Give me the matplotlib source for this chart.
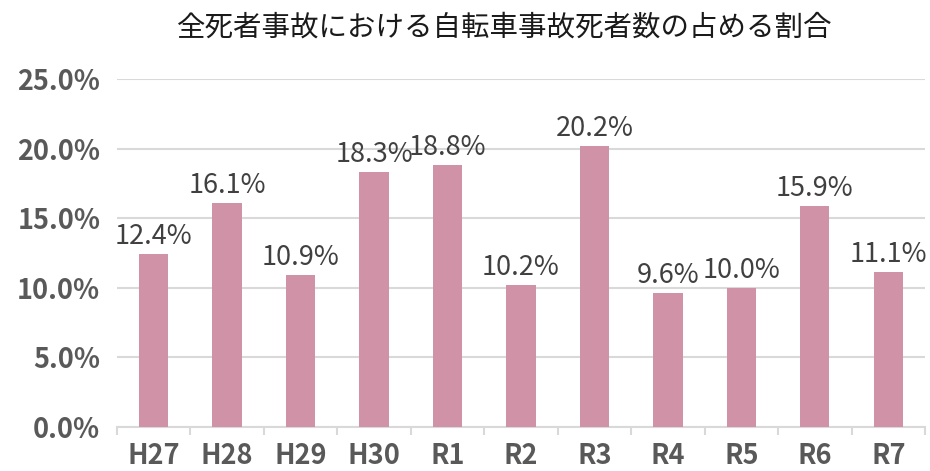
import matplotlib.pyplot as plt
import numpy as np

plt.rcParams['font.family'] = ['Noto Sans CJK JP', 'DejaVu Sans']

# データ
years = ['H27', 'H28', 'H29', 'H30', 'R1', 'R2', 'R3', 'R4', 'R5', 'R6', 'R7']
ratio = [12.4, 16.1, 10.9, 18.3, 18.8, 10.2, 20.2, 9.6, 10.0, 15.9, 11.1]
y_ticks = [0, 5, 10, 15, 20, 25]

bar_color = '#d092a7'
grid_color = '#d9d9d9'

fig = plt.figure(figsize=(9.3, 4.71), dpi=100)
ax = fig.add_axes([0.1258, 0.0934, 0.8688, 0.7389])

x = np.arange(len(years))
ax.bar(x, ratio, width=0.4, color=bar_color, zorder=3)

# 棒の上のラベル
for xi, v in zip(x, ratio):
    ax.annotate(f'{v:.1f}%', xy=(xi, v), xytext=(0, 3), textcoords='offset points',
                ha='center', va='bottom', fontsize=19.5, color='#404040')

ax.set_xlim(-0.5, len(years) - 0.5)
ax.set_ylim(0, 25)
ax.set_yticks(y_ticks)
ax.set_yticklabels([f'{t:.1f}%' for t in y_ticks], fontsize=19.5, color='#595959',
                   fontweight='bold')
ax.yaxis.grid(True, color=grid_color, linewidth=1.5, zorder=0)
ax.tick_params(axis='y', length=0, pad=12)

# 目盛り(区切り線)
ax.set_xticks(x)
ax.set_xticklabels(years, fontsize=19.5, color='#595959', fontweight='bold')
ax.set_xticks(np.arange(-0.5, len(years)), minor=True)
ax.tick_params(axis='x', which='major', length=0, pad=11)
ax.tick_params(axis='x', which='minor', length=6, color=grid_color, width=1.5)

for s in ['top', 'right', 'left']:
    ax.spines[s].set_visible(False)
ax.spines['bottom'].set_color(grid_color)
ax.spines['bottom'].set_linewidth(1.5)

fig.text(0.543, 0.942, '全死者事故における自転車事故死者数の占める割合',
         ha='center', va='center', fontsize=20.5, color='#1a1a1a')

plt.savefig('out.png', dpi=100)
